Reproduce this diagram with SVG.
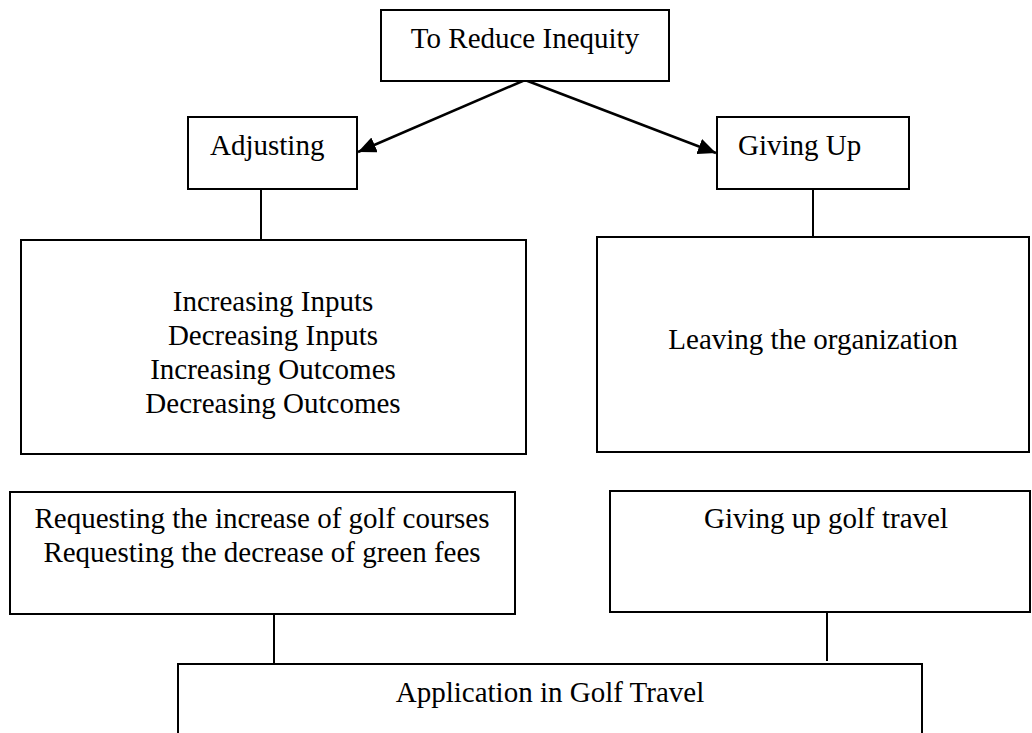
<svg xmlns="http://www.w3.org/2000/svg" width="1032" height="733" viewBox="0 0 1032 733">
<style>
.box{fill:#fff;stroke:#000;stroke-width:2}
.t{font-family:"Liberation Serif","Times New Roman",serif;font-size:29px;fill:#000}
.c{text-anchor:middle}
.ln{stroke:#000;stroke-width:2;fill:none}
.ar{stroke:#000;stroke-width:2.5;fill:none}
</style>
<defs>
<marker id="ah" markerUnits="userSpaceOnUse" markerWidth="20" markerHeight="16" refX="18" refY="8" orient="auto">
<path d="M0,0 L18,8 L0,16 z" fill="#000"/>
</marker>
</defs>
<rect width="1032" height="733" fill="#fff"/>
<g id="connectors">
<line class="ar" x1="525" y1="80" x2="358" y2="152" marker-end="url(#ah)"/>
<line class="ar" x1="525" y1="80" x2="716" y2="153" marker-end="url(#ah)"/>
<line class="ln" x1="261" y1="189" x2="261" y2="240"/>
<line class="ln" x1="813" y1="189" x2="813" y2="237"/>
<line class="ln" x1="274" y1="614" x2="274" y2="664"/>
<line class="ln" x1="827" y1="612" x2="827" y2="661"/>
</g>
<g id="n-top">
<rect class="box" x="381" y="10" width="288" height="71"/>
<text class="t c" x="525" y="48">To Reduce Inequity</text>
</g>
<g id="n-adjusting">
<rect class="box" x="188" y="117" width="169" height="72"/>
<text class="t" x="210" y="155">Adjusting</text>
</g>
<g id="n-givingup">
<rect class="box" x="717" y="117" width="192" height="72"/>
<text class="t" x="738" y="155">Giving Up</text>
</g>
<g id="n-methods">
<rect class="box" x="21" y="240" width="505" height="214"/>
<text class="t c" x="273" y="311">Increasing Inputs</text>
<text class="t c" x="273" y="345">Decreasing Inputs</text>
<text class="t c" x="273" y="379">Increasing Outcomes</text>
<text class="t c" x="273" y="413">Decreasing Outcomes</text>
</g>
<g id="n-leaving">
<rect class="box" x="597" y="237" width="432" height="215"/>
<text class="t c" x="813" y="349">Leaving the organization</text>
</g>
<g id="n-requesting">
<rect class="box" x="10" y="492" width="505" height="122"/>
<text class="t c" x="262" y="528">Requesting the increase of golf courses</text>
<text class="t c" x="262" y="562">Requesting the decrease of green fees</text>
</g>
<g id="n-givinggolf">
<rect class="box" x="610" y="491" width="420" height="121"/>
<text class="t c" x="826" y="528">Giving up golf travel</text>
</g>
<g id="n-application">
<rect class="box" x="178" y="664" width="744" height="100"/>
<text class="t c" x="550" y="702">Application in Golf Travel</text>
</g>
</svg>
